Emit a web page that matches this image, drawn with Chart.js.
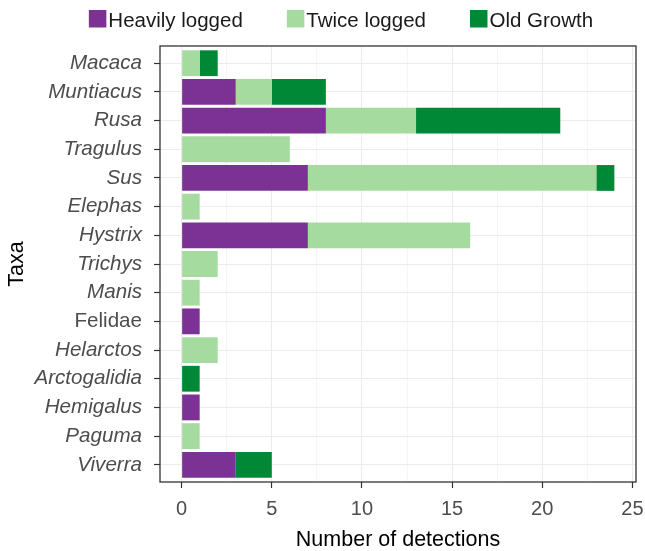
<!DOCTYPE html>
<html>
<head>
<meta charset="utf-8">
<script src="https://cdn.jsdelivr.net/npm/chart.js@4/dist/chart.umd.min.js"></script>
<style>
  html, body { margin: 0; padding: 0; background: #ffffff; }
  #wrap { width: 645px; height: 551px; position: relative; }
</style>
</head>
<body>
<div id="wrap"><canvas id="chart" width="645" height="551"></canvas></div>
<script>
// Camera-trap detections per taxon, split by forest logging history
const taxa = ['Macaca', 'Muntiacus', 'Rusa', 'Tragulus', 'Sus', 'Elephas', 'Hystrix', 'Trichys',
              'Manis', 'Felidae', 'Helarctos', 'Arctogalidia', 'Hemigalus', 'Paguma', 'Viverra'];
const heavilyLogged = [0, 3, 8, 0, 7, 0, 7, 0, 0, 1, 0, 0, 1, 0, 3];
const twiceLogged   = [1, 2, 5, 6, 16, 1, 9, 2, 1, 0, 2, 0, 0, 1, 0];
const oldGrowth     = [1, 3, 8, 0, 1, 0, 0, 0, 0, 0, 0, 1, 0, 0, 2];
const seriesNames = ['Heavily logged', 'Twice logged', 'Old Growth'];
const seriesColors = ['#7b3294', '#a6dba0', '#008837'];
const xTickValues = [0, 2.5, 5, 7.5, 10, 12.5, 15, 17.5, 20, 22.5, 25];

// genus names are italic, higher-rank names upright
const upright = ['Felidae'];

const FONT = "'Liberation Sans', Arial, Helvetica, sans-serif";

function points(values) {
  return values.map((v, i) => ({ x: v, y: i }));
}

function isMajor(c) {
  return c.tick && c.tick.value % 5 === 0;
}

// legend row above the panel: square key directly followed by its label
const topLegend = {
  id: 'topLegend',
  afterDraw(chart) {
    const ctx = chart.ctx;
    const box = 17.5, gap = 2, spacing = 44, size = 20.5;
    ctx.save();
    ctx.font = size + 'px ' + FONT;
    const widths = seriesNames.map(n => ctx.measureText(n).width);
    const total = widths.reduce((a, w) => a + box + gap + w, 0) + spacing * (seriesNames.length - 1);
    let x = 341 - total / 2;
    const boxTop = 10, textY = 26.5;
    seriesNames.forEach((name, i) => {
      ctx.fillStyle = seriesColors[i];
      ctx.fillRect(x, boxTop, box, box);
      ctx.fillStyle = '#1a1a1a';
      ctx.textBaseline = 'alphabetic';
      ctx.textAlign = 'left';
      ctx.fillText(name, x + box + gap, textY);
      x += box + gap + widths[i] + spacing;
    });
    ctx.restore();
  }
};

// outline round the plotting panel
const panelBorder = {
  id: 'panelBorder',
  afterDatasetsDraw(chart) {
    const a = chart.chartArea;
    const ctx = chart.ctx;
    ctx.save();
    ctx.strokeStyle = '#333333';
    ctx.lineWidth = 1.3;
    ctx.strokeRect(a.left, a.top, a.right - a.left, a.bottom - a.top);
    ctx.restore();
  }
};

new Chart(document.getElementById('chart'), {
  type: 'bar',
  data: {
    datasets: [
      { label: seriesNames[0], data: points(heavilyLogged), backgroundColor: seriesColors[0] },
      { label: seriesNames[1], data: points(twiceLogged),   backgroundColor: seriesColors[1] },
      { label: seriesNames[2], data: points(oldGrowth),     backgroundColor: seriesColors[2] }
    ]
  },
  options: {
    indexAxis: 'y',
    responsive: false,
    animation: false,
    devicePixelRatio: 1,
    layout: { padding: { top: 46, right: 9, left: 0, bottom: 0 } },
    datasets: { bar: { barPercentage: 0.9, categoryPercentage: 1.0, borderWidth: 0 } },
    plugins: { legend: { display: false }, tooltip: { enabled: false } },
    scales: {
      x: {
        type: 'linear',
        stacked: true,
        min: -1.2,
        max: 25.2,
        offset: false,
        afterBuildTicks(axis) { axis.ticks = xTickValues.map(v => ({ value: v })); },
        afterFit(axis) {
          axis.height = 69;
          axis.paddingLeft = 0;
          axis.paddingRight = 0;
        },
        border: { display: false },
        grid: {
          offset: false,
          color: c => isMajor(c) ? '#ebebeb' : '#f2f2f2',
          lineWidth: c => isMajor(c) ? 1 : 0.8,
          tickColor: c => isMajor(c) ? '#333333' : 'rgba(0,0,0,0)',
          tickLength: 6,
          tickWidth: 1.2
        },
        ticks: {
          autoSkip: false,
          maxRotation: 0,
          padding: 9,
          color: '#4d4d4d',
          font: { family: FONT, size: 20 },
          callback: v => (v % 5 === 0 ? String(v) : '')
        },
        title: {
          display: true,
          text: 'Number of detections',
          color: '#000000',
          font: { family: FONT, size: 21.5, lineHeight: 1 },
          padding: { top: 0, bottom: 0 }
        }
      },
      y: {
        type: 'linear',
        stacked: true,
        reverse: true,
        offset: false,
        min: -0.6,
        max: taxa.length - 0.4,
        afterBuildTicks(axis) { axis.ticks = taxa.map((t, i) => ({ value: i })); },
        afterFit(axis) {
          axis.width = 160;
          axis.paddingTop = 0;
          axis.paddingBottom = 0;
        },
        border: { display: false },
        grid: {
          offset: false,
          color: '#ebebeb',
          lineWidth: 1,
          tickColor: '#333333',
          tickLength: 6,
          tickWidth: 1.2
        },
        ticks: {
          autoSkip: false,
          padding: 12,
          color: '#4d4d4d',
          font: c => ({
            family: FONT,
            size: 20.6,
            style: (c.tick && upright.includes(taxa[c.tick.value])) ? 'normal' : 'italic'
          }),
          callback: v => taxa[v]
        },
        title: {
          display: true,
          text: 'Taxa',
          color: '#000000',
          font: { family: FONT, size: 21.5 },
          padding: { top: 4, bottom: 0 }
        }
      }
    }
  },
  plugins: [topLegend, panelBorder]
});
</script>
</body>
</html>
